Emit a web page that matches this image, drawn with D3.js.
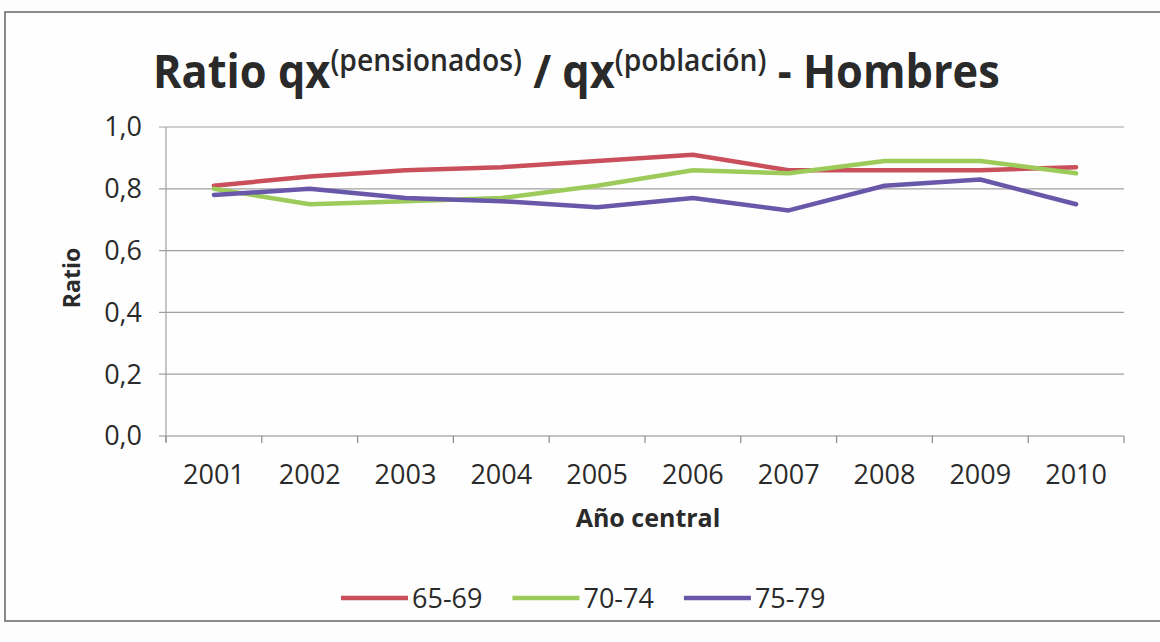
<!DOCTYPE html>
<html>
<head>
<meta charset="utf-8">
<script src="https://cdn.jsdelivr.net/npm/d3@7/dist/d3.min.js"></script>
<style>
  html, body { margin: 0; padding: 0; background: #fdfdfd; }
  svg { display: block; }
  text { font-family: "Open Sans", "Noto Sans", sans-serif; fill: #2a2a2a; }
</style>
</head>
<body>
<svg id="chart" width="1160" height="642"></svg>
<script>
// ---- data ----
const years = ["2001","2002","2003","2004","2005","2006","2007","2008","2009","2010"];
const s6569 = [0.81, 0.84, 0.86, 0.87, 0.89, 0.91, 0.86, 0.86, 0.86, 0.87];
const s7074 = [0.80, 0.75, 0.76, 0.77, 0.81, 0.86, 0.85, 0.89, 0.89, 0.85];
const s7579 = [0.78, 0.80, 0.77, 0.76, 0.74, 0.77, 0.73, 0.81, 0.83, 0.75];
const seriesNames = ["65-69", "70-74", "75-79"];
const seriesColors = ["#C9505A", "#9CCB5A", "#6958AA"];
const yTicks = [0, 0.2, 0.4, 0.6, 0.8, 1.0];
const yTickLabels = ["0,0", "0,2", "0,4", "0,6", "0,8", "1,0"];
const xTitle = "Año central";
const yTitle = "Ratio";

const series = [s6569, s7074, s7579].map((v, i) => ({ name: seriesNames[i], color: seriesColors[i], values: v }));

const svg = d3.select("#chart");

// outer frame
svg.append("rect").attr("x", 5).attr("y", 12).attr("width", 1170).attr("height", 609)
  .attr("fill", "#fefefe").attr("stroke", "#6e6e6e").attr("stroke-width", 1.6);

const x = d3.scaleBand().domain(years).range([166, 1124]).padding(0);
const y = d3.scaleLinear().domain([0, 1]).range([436, 127]);

// gridlines
svg.append("g").selectAll("line").data(yTicks).join("line")
  .attr("x1", 159).attr("x2", 1124)
  .attr("y1", d => y(d)).attr("y2", d => y(d))
  .attr("stroke", d => d === 0 ? "#8a8a8a" : "#a0a0a0").attr("stroke-width", 1.2);

// y axis line
svg.append("line").attr("x1", 166).attr("x2", 166).attr("y1", y(1)).attr("y2", y(0) + 6)
  .attr("stroke", "#a0a0a0").attr("stroke-width", 1.2);

// y tick labels
svg.append("g").selectAll("text").data(yTicks).join("text")
  .attr("x", 142).attr("y", d => y(d)).attr("dy", "0.35em")
  .attr("text-anchor", "end").attr("font-size", 27)
  .text((d, i) => yTickLabels[i]);

// x axis ticks (category boundaries)
const bounds = years.map(d => x(d)).concat([x(years[years.length - 1]) + x.bandwidth()]);
svg.append("g").selectAll("line").data(bounds).join("line")
  .attr("x1", d => d).attr("x2", d => d).attr("y1", y(0)).attr("y2", y(0) + 7)
  .attr("stroke", "#8a8a8a").attr("stroke-width", 1.2);

// x tick labels
svg.append("g").selectAll("text").data(years).join("text")
  .attr("x", d => x(d) + x.bandwidth() / 2).attr("y", 484)
  .attr("text-anchor", "middle").attr("font-size", 27)
  .text(d => d);

// axis titles
svg.append("text").attr("x", 648).attr("y", 527).attr("text-anchor", "middle")
  .attr("font-size", 25).attr("font-weight", "bold").text(xTitle);
svg.append("text").attr("transform", "translate(80,278) rotate(-90)").attr("text-anchor", "middle")
  .attr("font-size", 23).attr("font-weight", "bold").text(yTitle);

// lines
const line = d3.line().x((d, i) => x(years[i]) + x.bandwidth() / 2).y(d => y(d));
svg.append("g").selectAll("path").data(series).join("path")
  .attr("d", d => line(d.values)).attr("fill", "none")
  .attr("stroke", d => d.color).attr("stroke-width", 4.5)
  .attr("stroke-linejoin", "round").attr("stroke-linecap", "round");

// title
const title = svg.append("text").attr("x", 153).attr("y", 88)
  .attr("font-weight", "bold").attr("font-size", 46);
const parts = [
  { t: "Ratio qx", sup: false },
  { t: "(pensionados)", sup: true },
  { t: " / qx", sup: false },
  { t: "(población)", sup: true },
  { t: " - Hombres", sup: false }
];
parts.forEach((p, i) => {
  const ts = title.append("tspan").text(p.t);
  if (p.sup) { ts.attr("font-size", 30).attr("font-weight", 600).attr("dy", -17); }
  else { ts.attr("font-size", 46).attr("dy", i === 0 ? 0 : 17); }
});
const tw = title.node().getComputedTextLength();
const targetW = 847;
title.attr("transform", `translate(153,0) scale(${targetW / tw},1) translate(-153,0)`);

// legend
const legend = svg.append("g");
let lx = 341;
const ly = 598;
series.forEach((s, i) => {
  legend.append("line").attr("x1", lx).attr("x2", lx + 67).attr("y1", ly).attr("y2", ly)
    .attr("stroke", s.color).attr("stroke-width", 4.5);
  const t = legend.append("text").attr("x", lx + 71).attr("y", ly).attr("dy", "0.36em")
    .attr("font-size", 27).text(s.name);
  lx += 71 + t.node().getComputedTextLength() + 30;
});
</script>
</body>
</html>
